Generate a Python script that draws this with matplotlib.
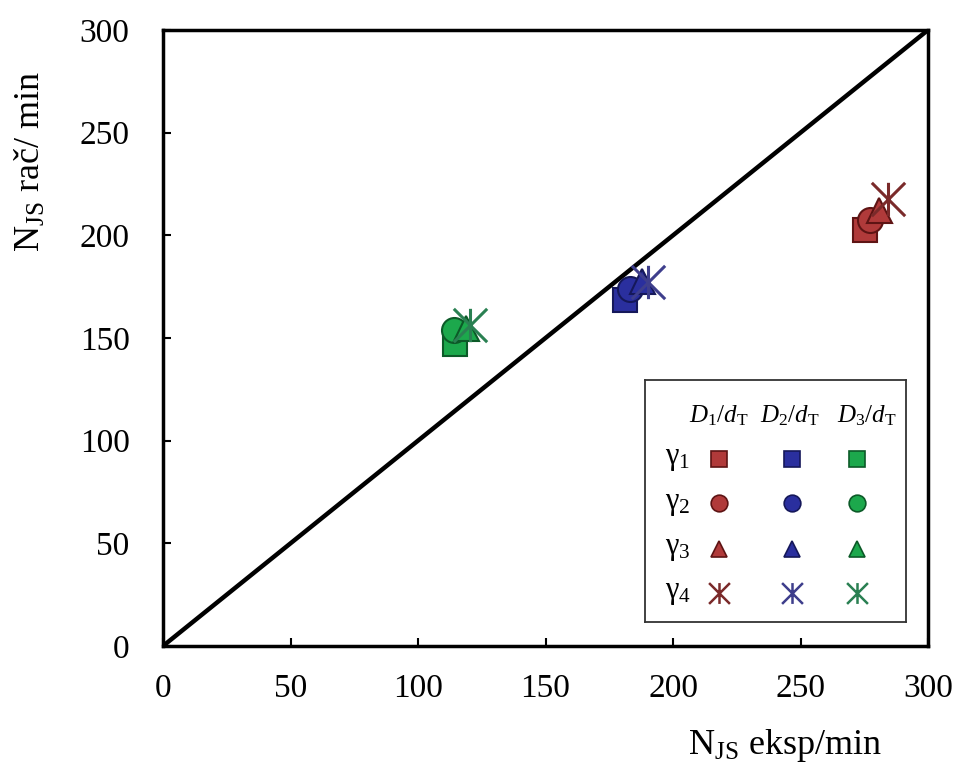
import matplotlib
matplotlib.use("Agg")
import matplotlib.pyplot as plt
from matplotlib.path import Path

plt.rcParams['font.family'] = ['Liberation Serif', 'DejaVu Serif']
plt.rcParams['mathtext.fontset'] = 'custom'
plt.rcParams['mathtext.rm'] = 'Liberation Serif'
plt.rcParams['mathtext.it'] = 'Liberation Serif:italic'

# ---- data ----
groups = ["D1/dT", "D2/dT", "D3/dT"]
exp_D1 = [275.3, 277.3, 280.8, 284.3]
calc_D1 = [202.4, 207.7, 212.1, 217.7]
exp_D2 = [181.0, 183.0, 187.8, 190.2]
calc_D2 = [168.3, 174.0, 178.0, 177.3]
exp_D3 = [114.5, 114.1, 118.8, 120.4]
calc_D3 = [146.9, 153.7, 155.1, 156.4]
gamma_labels = ["γ$_{1}$", "γ$_{2}$", "γ$_{3}$", "γ$_{4}$"]
xticks = [0, 50, 100, 150, 200, 250, 300]
yticks = [0, 50, 100, 150, 200, 250, 300]

fills = ["#B03A3A", "#2A2F9E", "#1CA84C"]
edges = ["#5E1414", "#15185A", "#0C5A28"]
star_cols = ["#7A2A2A", "#3E3E8C", "#2A8052"]

star = Path([(0, -1), (0, 1), (-1, -1), (1, 1), (-1, 1), (1, -1)],
            [Path.MOVETO, Path.LINETO, Path.MOVETO, Path.LINETO, Path.MOVETO, Path.LINETO])
shapes = ["s", "o", "^", star]
sizes = [17, 18, 18, 24]

fig = plt.figure(figsize=(9.56, 7.68), dpi=100)
ax = fig.add_axes([163/956, 122/768, 765/956, 616/768])

ax.plot([0, 300], [0, 300], color="black", lw=3.2, zorder=2, solid_capstyle="round")

data = [(exp_D1, calc_D1), (exp_D2, calc_D2), (exp_D3, calc_D3)]
for g, (xs, ys) in enumerate(data):
    for k in range(4):
        if k < 3:
            ax.plot(xs[k], ys[k], marker=shapes[k], ms=sizes[k], mfc=fills[g],
                    mec=edges[g], mew=1.5, ls="none", zorder=3 + k)
        else:
            ax.plot(xs[k], ys[k], marker=shapes[k], ms=sizes[k], color=star_cols[g],
                    mew=2.2, ls="none", zorder=3 + k)

ax.set_xlim(0, 300)
ax.set_ylim(0, 300)
ax.set_xticks(xticks)
ax.set_yticks(yticks)
ax.tick_params(direction="in", length=6, width=1.5, labelsize=24,
               top=False, right=False)
ax.tick_params(axis="x", pad=20)
ax.tick_params(axis="y", pad=24)
for s in ax.spines.values():
    s.set_linewidth(2.5)

ax.set_ylabel(r"N$_{\mathrm{JS}}$ rač/ min", fontsize=26)
ax.yaxis.set_label_coords(-0.150, 0.787)
fig.text(785/956, 1 - 745/768, r"N$_{\mathrm{JS}}$ eksp/min", fontsize=26,
         ha="center", va="center")

# ---- custom legend table ----
lax = fig.add_axes([645/956, 1 - 622/768, (906 - 645)/956, (622 - 380)/768])
lax.set_xlim(645, 906)
lax.set_ylim(622, 380)
lax.set_xticks([])
lax.set_yticks([])
for s in lax.spines.values():
    s.set_linewidth(1.3)
    s.set_color("#333333")

col_x = [719, 792, 857]
head_x = [719, 790, 867]
row_y = [459, 503, 549, 593]
headers = [r"$D_{\mathrm{1}}/d_{\mathrm{T}}$", r"$D_{\mathrm{2}}/d_{\mathrm{T}}$",
           r"$D_{\mathrm{3}}/d_{\mathrm{T}}$"]
for g in range(3):
    lax.text(head_x[g], 416, headers[g], fontsize=18, ha="center", va="center")
for k in range(4):
    lax.text(678, row_y[k], gamma_labels[k], fontsize=22, ha="center", va="center")
    for g in range(3):
        if k < 3:
            lax.plot(col_x[g], row_y[k], marker=shapes[k], ms=12, mfc=fills[g],
                     mec=edges[g], mew=1.2, ls="none")
        else:
            lax.plot(col_x[g], row_y[k], marker=shapes[k], ms=15, color=star_cols[g],
                     mew=1.8, ls="none")

fig.savefig("out.png", dpi=100)
